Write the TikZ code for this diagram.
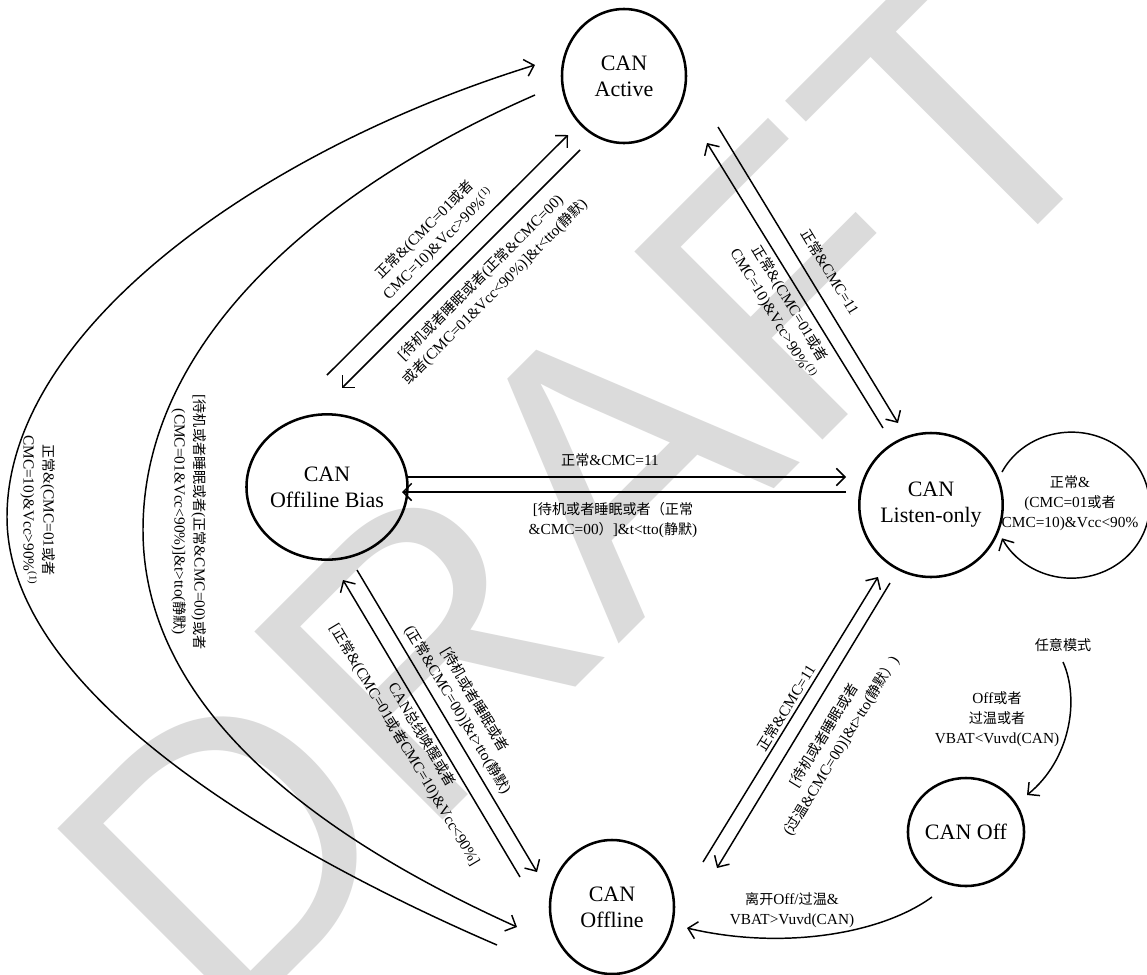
\documentclass[tikz,border=0pt]{standalone}
\usepackage{fontspec}
\setmainfont{Liberation Serif}
\newfontfamily\cjk[Scale=0.92]{Noto Sans CJK SC}
\newfontfamily\wmfont{Liberation Sans}
\usetikzlibrary{arrows.meta,shapes.geometric,calc}
\newcommand\zh[1]{{\cjk #1}}
\tikzset{
  state/.style={draw, line width=1.9pt, ellipse, inner sep=0pt, align=center,
    font=\fontsize{16.5}{19.5}\selectfont},
  lab/.style={font=\fontsize{11.5}{15}\selectfont, align=center, inner sep=0pt},
  conn/.style={line width=1.1pt, -{Straight Barb[length=6.5pt,width=13pt]}},
  wm/.style={font=\wmfont\fontsize{290}{290}\selectfont, text=black!14, rotate=45, inner sep=0pt}
}
\begin{document}
\begin{tikzpicture}[x=0.75pt,y=-0.75pt]
\useasboundingbox (0,0) rectangle (1147,975);
\fill[white] (0,0) rectangle (1147,975);
% watermark
\node[wm] (wm) at (585,490) {DRAFT};
% states
\node[state, minimum width=93pt, minimum height=100.5pt] (act) at (624,76) {CAN\\Active};
\node[state, minimum width=105pt, minimum height=109pt] (bias) at (327,487) {CAN\\Offiline Bias};
\node[state, minimum width=96pt, minimum height=108pt] (lis) at (931,505) {CAN\\Listen-only};
\node[state, minimum width=93pt, minimum height=100.5pt] (off) at (612,907) {CAN\\Offline};
\node[state, minimum size=81pt] (canoff) at (966,832) {CAN Off};
% Bias <-> Active
\draw[conn] ($(bias)+(0,-112)$) -- ($(act)+(-56,59)$);
\draw[conn] ($(act)+(-44,74)$) -- ($(bias)+(15,-99)$);
\node[lab, rotate=45] (la1) at (432,237) {\zh{正常}\&(CMC=01\zh{或者}\\CMC=10)\&Vcc>90\%\textsuperscript{(1)}};
\node[lab, rotate=45] (la2) at (488,285) {[\zh{待机或者睡眠或者}(\zh{正常}\&CMC=00)\\\zh{或者}(CMC=01\&Vcc<90\%)]\&t<tto(\zh{静默})};
% Active <-> Listen
\draw[conn] ($(act)+(94,51)$) -- ($(lis)+(-33,-82)$);
\draw[conn] ($(lis)+(-48,-77)$) -- ($(act)+(83,67)$);
\node[lab, rotate=-58.7] (ll1) at (830,272) {\zh{正常}\&CMC=11};
\node[lab, rotate=-58.7] (ll2) at (781,309) {\zh{正常}\&(CMC=01\zh{或者}\\CMC=10)\&Vcc>90\%\textsuperscript{(1)}};
% Bias <-> Listen
\draw[conn] ($(bias)+(81,-10)$) -- ($(lis)+(-85,-28)$);
\draw[conn] ($(lis)+(-85,-13)$) -- ($(bias)+(75,5)$);
\node[lab] (lh1) at (610,460) {\zh{正常}\&CMC=11};
\node[lab] (lh2) at (613,520) {[\zh{待机或者睡眠或者（正常}\\\&CMC=00\zh{）}]\&t<tto(\zh{静默})};
% Listen self loop
\draw[conn] ($(lis)+(71,-33)$) arc[start angle=153, end angle=-153, x radius=58.5pt, y radius=54.75pt];
\node[lab] (lloop) at (1070,503) {\zh{正常}\&\\(CMC=01\zh{或者}\\CMC=10)\&Vcc<90\%};
% Bias <-> Offline
\draw[conn] ($(off)+(-92,-30)$) -- ($(bias)+(16,93)$);
\draw[conn] ($(bias)+(30,83)$) -- ($(off)+(-75,-35)$);
\node[lab, rotate=-59.2] (lo2) at (466,705) {[\zh{待机或者睡眠或者}\\(\zh{正常}\&CMC=00)]\&t>tto(\zh{静默})};
\node[lab, rotate=-59.2] (lo1) at (413,740) {CAN\zh{总线唤醒或者}\\{[}\zh{正常}\&(CMC=01\zh{或者}CMC=10)\&Vcc<90\%]};
% Offline <-> Listen
\draw[conn] ($(off)+(91,-45)$) -- ($(lis)+(-53,72)$);
\draw[conn] ($(lis)+(-41,78)$) -- ($(off)+(105,-39)$);
\node[lab, rotate=58.5] (lf1) at (786,708) {\zh{正常}\&CMC=11};
\node[lab, rotate=58.5] (lf2) at (833,741) {[\zh{待机或者睡眠或者}\\(\zh{过温}\&CMC=00)]\&t>tto(\zh{静默）})};
% Offline <-> Active big arcs
\draw[conn] ($(off)+(-115,38)$) .. controls (300,860) and (7,700) .. (7,517) .. controls (7,330) and (260,150) .. ($(act)+(-89,-11)$);
\draw[conn] ($(act)+(-89,19)$) .. controls (340,180) and (143,330) .. (143,530) .. controls (143,720) and (340,847) .. ($(off)+(-95,20)$);
\node[lab, rotate=-90] (lout) at (38,510) {\zh{正常}\&(CMC=01\zh{或者}\\CMC=10)\&Vcc>90\%\textsuperscript{(1)}};
\node[lab, rotate=-90] (lin) at (189,522) {[\zh{待机或者睡眠或者}(\zh{正常}\&CMC=00)\zh{或者}\\(CMC=01\&Vcc<90\%)]\&t>tto(\zh{静默})};
% CAN Off
\node[lab] (any) at (1063,645) {\zh{任意模式}};
\draw[conn] ($(any)+(0,17)$) .. controls (1080,700) and (1070,760) .. ($(canoff)+(61,-37)$);
\node[lab] (loffany) at (997,719) {Off\zh{或者}\\\zh{过温或者}\\VBAT<Vuvd(CAN)};
\draw[conn] ($(canoff)+(-34,65)$) .. controls (880,935) and (780,950) .. ($(off)+(75,21)$);
\node[lab] (lleave) at (792,910) {\zh{离开}Off/\zh{过温}\&\\VBAT>Vuvd(CAN)};
\end{tikzpicture}
\end{document}
